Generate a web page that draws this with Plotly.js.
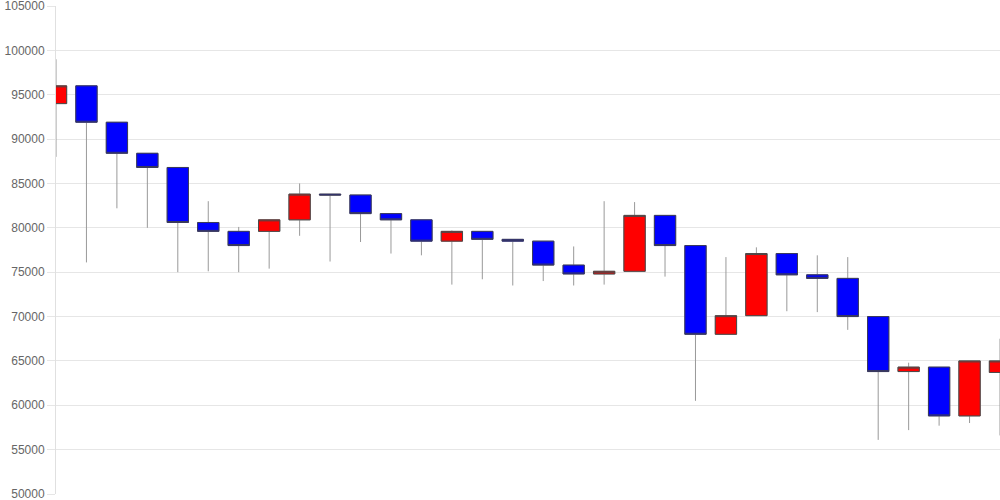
<!DOCTYPE html>
<html>
<head>
<meta charset="utf-8">
<script src="https://cdn.plot.ly/plotly-3.0.1.min.js"></script>
<style>html,body{margin:0;padding:0;background:#fff;}#chart{width:1000px;height:500px;}</style>
</head>
<body>
<div id="chart"></div>
<script>
// Candle index (no labels shown on the x axis)
const periods = [0,1,2,3,4,5,6,7,8,9,10,11,12,13,14,15,16,17,18,19,20,21,22,23,24,25,26,27,28,29,30,31];
const openValues  = [94000,96000,91900,88400,86800,80600,79600,79600,80900,83800,83700,81600,80900,78500,79600,78700,78500,75800,74800,75100,81400,78000,68000,70100,77100,74700,74300,70000,63800,64300,58800,63700];
const highValues  = [99000,96000,91900,88400,86800,83000,80100,80900,85000,83800,83700,81600,80900,79700,79600,78700,78500,77900,83000,82900,81400,78000,76700,77800,77100,76900,76700,70000,64800,64300,65000,67500];
const lowValues   = [88000,76100,82200,80000,75000,75100,75000,75400,79100,76200,78400,77100,76900,73600,74200,73500,74000,73500,73600,75100,74500,60500,68000,70100,70600,70500,68500,56100,57200,57700,58000,56600];
const closeValues = [96000,91900,88400,86800,80600,79600,78000,80900,83800,83700,81600,80900,78500,79600,78700,78500,75800,74800,75100,81400,78000,68000,70100,77100,74700,74300,70000,63800,64300,58800,65000,65000];
const yTicks = [50000,55000,60000,65000,70000,75000,80000,85000,90000,95000,100000,105000];

// body-only high/low so the box outline can differ from the wick colour
const bodyHigh = openValues.map((o, i) => Math.max(o, closeValues[i]));
const bodyLow  = openValues.map((o, i) => Math.min(o, closeValues[i]));

const wicks = {
  type: 'candlestick', x: periods,
  open: openValues, high: highValues, low: lowValues, close: closeValues,
  increasing: {line: {color: '#999999', width: 1}, fillcolor: '#ff0000'},
  decreasing: {line: {color: '#999999', width: 1}, fillcolor: '#0000ff'},
  whiskerwidth: 0, hoverinfo: 'skip', showlegend: false
};
const bodies = {
  type: 'candlestick', x: periods,
  open: openValues, high: bodyHigh, low: bodyLow, close: closeValues,
  increasing: {line: {color: '#4a4a4a', width: 1}, fillcolor: '#ff0000'},
  decreasing: {line: {color: '#3a3a5a', width: 1}, fillcolor: '#0000ff'},
  whiskerwidth: 0, hoverinfo: 'skip', showlegend: false
};

const layout = {
  width: 1000, height: 500,
  margin: {l: 56, r: 0, t: 6, b: 6},
  paper_bgcolor: '#ffffff', plot_bgcolor: '#ffffff',
  showlegend: false,
  boxmode: 'overlay',
  boxgap: 0.3,
  boxgroupgap: 0,
  font: {family: '"Liberation Sans", Arial, sans-serif', size: 12, color: '#666666'},
  xaxis: {
    range: [0, 31], showgrid: false, zeroline: false, showticklabels: false,
    rangeslider: {visible: false}, showline: false, ticks: ''
  },
  yaxis: {
    range: [50000, 105000], tickvals: yTicks, ticktext: yTicks.map(String),
    showgrid: true, gridcolor: '#e6e6e6', gridwidth: 1, zeroline: false,
    showline: true, linecolor: '#e0e0e0', linewidth: 1,
    ticks: 'outside', ticklen: 8, tickcolor: '#e6e6e6',
    ticklabeloverflow: 'allow',
    tickfont: {size: 12, color: '#666666'}
  }
};

Plotly.newPlot('chart', [wicks, bodies], layout, {displayModeBar: false, staticPlot: true});
</script>
</body>
</html>
